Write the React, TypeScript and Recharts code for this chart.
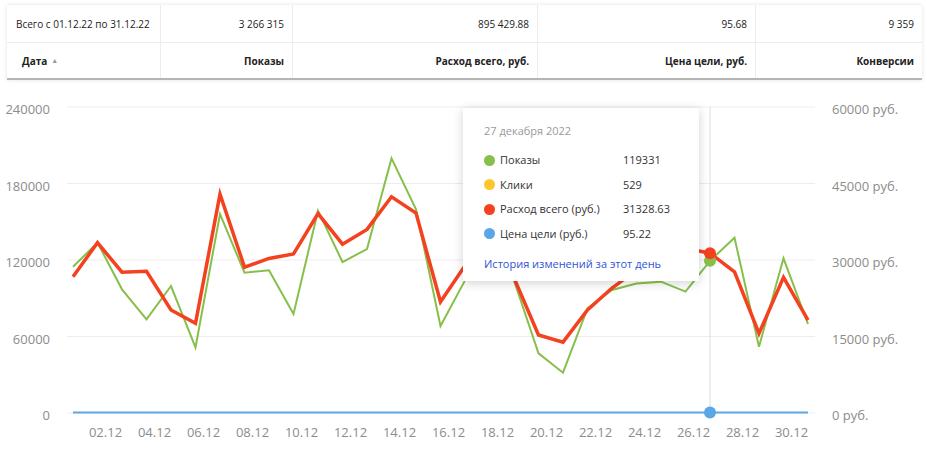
import { LineChart, Line, XAxis, YAxis, Tooltip, CartesianGrid } from 'recharts'

// daily stats, december 2022
const days = ['01.12','02.12','03.12','04.12','05.12','06.12','07.12','08.12','09.12','10.12','11.12','12.12','13.12','14.12','15.12','16.12','17.12','18.12','19.12','20.12','21.12','22.12','23.12','24.12','25.12','26.12','27.12','28.12','29.12','30.12','31.12']
const dayTicks = ['02.12','04.12','06.12','08.12','10.12','12.12','14.12','16.12','18.12','20.12','22.12','24.12','26.12','28.12','30.12']

const shows = [114700,133600,97000,73500,99600,51500,156000,110000,112000,77600,158700,118400,128600,199700,159700,68200,104000,143000,104000,46800,31600,82000,96500,101500,103000,95200,119331,137500,52000,121300,69800]
const spend = [26700,33400,27600,27800,20200,17600,42900,28600,30300,31200,39100,33100,36000,42400,39200,21800,28900,37000,26500,15300,13900,20200,24500,28000,30500,32300,31328.63,27700,15600,26600,18200]
const goalPrice = [98.4,93.1,96.7,101.2,94.5,90.8,97.3,95.9,99.1,92.6,96.2,94.8,98.7,93.5,95.1,97.8,96.4,92.9,94.2,99.6,101.8,96.1,93.7,95.4,97.2,94.6,95.22,96.8,98.3,93.9,95.5]
const clicksByDay: Record<string, number> = { '27.12': 529 }

const leftTicks = [0, 60000, 120000, 180000, 240000]
const rightTicks = [0, 15000, 30000, 45000, 60000]

const totalsRow = ['Всего с 01.12.22 по 31.12.22', '3 266 315', '895 429.88', '95.68', '9 359']
const headerRow = ['Дата', 'Показы', 'Расход всего, руб.', 'Цена цели, руб.', 'Конверсии']
const colWidths = [153, 132, 245, 218, 167]

const GREEN = '#86c04a'
const YELLOW = '#ffc62e'
const RED = '#f4411f'
const BLUE = '#5aa7e8'
const FONT = '"Open Sans", sans-serif'

const data = days.map((d, i) => ({ day: d, shows: shows[i], spend: spend[i], goal: goalPrice[i] }))

const DayTick = (props: any) => {
  const { x, y, payload } = props
  return (
    <text x={x + 8} y={y + 16} textAnchor="middle" fill="#8c8c8c" fontSize={13} fontFamily={FONT}>
      {payload.value}
    </text>
  )
}

const LeftTick = (props: any) => {
  const { y, payload } = props
  return (
    <text x={50} y={y + 7} textAnchor="end" fill="#8c8c8c" fontSize={13} fontFamily={FONT}>
      {payload.value}
    </text>
  )
}

const RightTick = (props: any) => {
  const { y, payload } = props
  return (
    <text x={832} y={y + 7} textAnchor="start" fill="#8c8c8c" fontSize={13} fontFamily={FONT}>
      {payload.value} руб.
    </text>
  )
}

const HoverCard = ({ active, payload, label }: any) => {
  if (!active || !payload || !payload.length) return null
  const row = payload[0].payload
  const items = [
    { name: 'Показы', color: GREEN, value: row.shows },
    { name: 'Клики', color: YELLOW, value: clicksByDay[label] ?? '' },
    { name: 'Расход всего (руб.)', color: RED, value: row.spend },
    { name: 'Цена цели (руб.)', color: BLUE, value: row.goal },
  ]
  const dayNum = parseInt(String(label).slice(0, 2), 10)
  return (
    <div style={{ position: 'relative', width: 236, height: 173, background: '#fff', boxShadow: '0 2px 10px rgba(0,0,0,0.18)', fontFamily: FONT, fontSize: 11, color: '#333' }}>
      <div style={{ position: 'absolute', left: 21, top: 15, color: '#9a9a9a', lineHeight: '16px' }}>{dayNum} декабря 2022</div>
      {items.map((it, i) => (
        <div key={it.name} style={{ position: 'absolute', left: 0, top: 44 + i * 24.5, height: 16, width: 236, lineHeight: '16px' }}>
          <span style={{ position: 'absolute', left: 21, top: 2.5, width: 11, height: 11, borderRadius: '50%', background: it.color }} />
          <span style={{ position: 'absolute', left: 37 }}>{it.name}</span>
          <span style={{ position: 'absolute', left: 160 }}>{it.value}</span>
        </div>
      ))}
      <div style={{ position: 'absolute', left: 21, top: 148, color: '#2f55d4', lineHeight: '16px' }}>История изменений за этот день</div>
    </div>
  )
}

function StatsTable() {
  const cell = (text: string, i: number, bold: boolean) => (
    <div key={i} style={{
      width: colWidths[i], boxSizing: 'border-box', borderLeft: i ? '1px solid #ececec' : 'none',
      display: 'flex', alignItems: 'center', justifyContent: i ? 'flex-end' : 'flex-start',
      padding: i ? '0 8px 0 0' : bold ? '0 0 0 15px' : '0 0 0 9px',
      fontWeight: bold ? 700 : 400, whiteSpace: 'nowrap',
    }}>
      {text}
      {bold && i === 0 && <span style={{ marginLeft: 4, fontSize: 7, color: '#999', fontWeight: 400 }}>▲</span>}
    </div>
  )
  return (
    <div style={{ position: 'absolute', left: 7, top: 5, width: 915, background: '#fff', borderRadius: '0 4px 0 0', boxShadow: '0 0 4px rgba(0,0,0,0.12)', fontFamily: FONT, fontSize: 10, color: '#222' }}>
      <div style={{ display: 'flex', height: 37, borderBottom: '1px solid #ececec' }}>
        {totalsRow.map((t, i) => cell(t, i, false))}
      </div>
      <div style={{ display: 'flex', height: 35, borderBottom: '2px solid #b5b5b5' }}>
        {headerRow.map((t, i) => cell(t, i, true))}
      </div>
    </div>
  )
}

export default function App() {
  return (
    <div style={{ position: 'absolute', left: 0, top: 0, width: 927, height: 463, background: '#fff' }}>
      <LineChart width={927} height={463} data={data} margin={{ top: 107, right: 12, bottom: 20, left: 7 }}>
        <CartesianGrid yAxisId="left" vertical={false} stroke="#ededed" />
        <XAxis dataKey="day" ticks={dayTicks} interval={0} axisLine={false} tickLine={false} tick={<DayTick />} height={30} padding={{ left: 6, right: 7 }} />
        <YAxis yAxisId="left" domain={[0, 240000]} ticks={leftTicks} axisLine={false} tickLine={false} width={60} tick={<LeftTick />} />
        <YAxis yAxisId="right" orientation="right" domain={[0, 60000]} ticks={rightTicks} axisLine={false} tickLine={false} width={100} tick={<RightTick />} />
        <Tooltip
          defaultIndex={26}
          position={{ x: 463, y: 108 }}
          isAnimationActive={false}
          cursor={{ stroke: '#dcdcdc', strokeWidth: 1 }}
          content={<HoverCard />}
          wrapperStyle={{ outline: 'none' }}
        />
        <Line yAxisId="left" type="linear" dataKey="shows" name="Показы" stroke={GREEN} strokeWidth={2} dot={false} activeDot={{ r: 6, fill: GREEN, stroke: 'none' }} isAnimationActive={false} />
        <Line yAxisId="right" type="linear" dataKey="spend" name="Расход всего (руб.)" stroke={RED} strokeWidth={3.5} dot={false} activeDot={{ r: 6, fill: RED, stroke: 'none' }} isAnimationActive={false} />
        <Line yAxisId="right" type="linear" dataKey="goal" name="Цена цели (руб.)" stroke={BLUE} strokeWidth={2} dot={false} activeDot={{ r: 6, fill: BLUE, stroke: 'none' }} isAnimationActive={false} />
      </LineChart>
      <StatsTable />
    </div>
  )
}
